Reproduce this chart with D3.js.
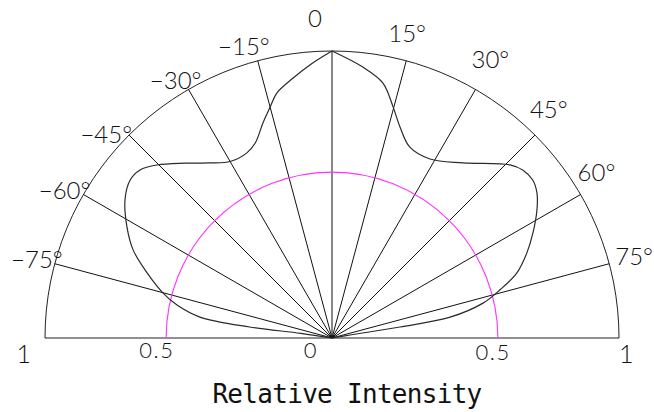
<!DOCTYPE html>
<html>
<head>
<meta charset="utf-8">
<script src="https://cdn.jsdelivr.net/npm/d3@7"></script>
<style>
  body { margin: 0; background: #fff; }
  text { font-family: "Lato", "Liberation Sans", sans-serif; font-weight: 300; fill: #111; }
</style>
</head>
<body>
<div id="main"></div>
<script>
// ray directions (degrees from vertical) and their labels
const rayAngles = [-75, -60, -45, -30, -15, 0, 15, 30, 45, 60, 75];
const rayLabels = ["\u221275°", "\u221260°", "\u221245°", "\u221230°", "\u221215°", "0", "15°", "30°", "45°", "60°", "75°"];

// radial scale ticks along the base line
const radialTicks = [-1, -0.5, 0, 0.5, 1];
const radialTickLabels = ["1", "0.5", "0", "0.5", "1"];

// magenta reference level
const referenceLevel = 0.578;

// measured curve, left half (apex -> origin)
const leftAngles = [0, -4.4, -8.5, -12.7, -15, -17.8, -21.5, -24.7, -30, -35, -40, -45.3, -48.8, -52, -56.3, -61.6, -66.1, -70.6, -75.1, -78, -81, -82.4, -81.5, -90];
const leftIntensity = [1, 0.957, 0.916, 0.875, 0.833, 0.787, 0.73, 0.71, 0.71, 0.745, 0.795, 0.857, 0.889, 0.893, 0.867, 0.812, 0.758, 0.683, 0.609, 0.552, 0.466, 0.29, 0.11, 0];

// measured curve, right half (apex -> origin)
const rightAngles = [0, 6.5, 11.3, 14.8, 17.9, 22.2, 28.7, 36.8, 45.8, 48.7, 51.8, 54.7, 58, 62.4, 66.4, 70.6, 74, 77, 80, 80.8, 80.5, 90];
const rightIntensity = [1, 0.95, 0.906, 0.833, 0.772, 0.718, 0.711, 0.762, 0.865, 0.886, 0.89, 0.875, 0.842, 0.79, 0.741, 0.683, 0.609, 0.54, 0.418, 0.24, 0.064, 0];

const width = 654;
const height = 412;
const cx = 332;
const cy = 338;
const R = 287;

const rad = (d) => (d * Math.PI) / 180;
const r = d3.scaleLinear().domain([0, 1]).range([0, R]);

// small hand nudges for the angle labels, relative to the ray end
const labelNudge = {
  "-75": [8, 4], "-60": [7, 4], "-45": [3, 8], "-30": [13, 0], "-15": [12, -6],
  "0": [-17, -24],
  "15": [-18, -19], "30": [-4, -21], "45": [-5, -17], "60": [-3, -14], "75": [6, 1],
};

const svg = d3.select("#main").append("svg").attr("width", width).attr("height", height);
svg.append("rect").attr("width", width).attr("height", height).attr("fill", "#fff");

const g = svg.append("g").attr("transform", `translate(${cx},${cy})`);

// outer semicircle
const outer = d3.path();
outer.arc(0, 0, r(1), -Math.PI, 0);
g.append("path").attr("d", outer.toString()).attr("fill", "none").attr("stroke", "#222").attr("stroke-width", 1);

// base line
g.append("line")
  .attr("x1", -r(1)).attr("x2", r(1))
  .attr("y1", 0).attr("y2", 0)
  .attr("stroke", "#222").attr("stroke-width", 1.2);

// rays
g.selectAll(".ray")
  .data(rayAngles)
  .enter()
  .append("line")
  .attr("class", "ray")
  .attr("x1", 0).attr("y1", 0)
  .attr("x2", (a) => r(1) * Math.sin(rad(a)))
  .attr("y2", (a) => -r(1) * Math.cos(rad(a)))
  .attr("stroke", "#111").attr("stroke-width", 1);

// magenta reference semicircle
const ref = d3.path();
ref.arc(0, 0, r(referenceLevel), -Math.PI, 0);
g.append("path").attr("d", ref.toString()).attr("fill", "none").attr("stroke", "#ff33ff").attr("stroke-width", 1.1);

// measured curve
const radial = d3.lineRadial()
  .angle((d) => rad(d[0]))
  .radius((d) => r(d[1]))
  .curve(d3.curveCatmullRom.alpha(0.5));

const leftPts = leftAngles.map((a, i) => [a, leftIntensity[i]]);
const rightPts = rightAngles.map((a, i) => [a, rightIntensity[i]]);

[leftPts, rightPts].forEach((pts) => {
  g.append("path")
    .attr("d", radial(pts))
    .attr("fill", "none")
    .attr("stroke", "#2a2a2a")
    .attr("stroke-width", 1.2);
});

// angle labels
g.selectAll(".angle-label")
  .data(rayAngles)
  .enter()
  .append("text")
  .attr("class", "angle-label")
  .attr("x", (a) => r(1) * Math.sin(rad(a)) + labelNudge[a][0])
  .attr("y", (a) => -r(1) * Math.cos(rad(a)) + labelNudge[a][1])
  .attr("text-anchor", (a) => (a < 0 ? "end" : a === 0 ? "middle" : "start"))
  .style("font-size", "24px")
  .text((a, i) => rayLabels[i]);

// radial tick labels
g.selectAll(".tick-label")
  .data(radialTicks)
  .enter()
  .append("text")
  .attr("class", "tick-label")
  .attr("x", (v) => (v <= 0 ? -r(-v) - 14 : r(v)))
  .attr("y", (v) => (Math.abs(v) === 1 ? 25 : v > 0 ? 22 : 20))
  .attr("text-anchor", (v) => (v <= 0 ? "end" : "start"))
  .style("font-size", (v) => (Math.abs(v) === 1 ? "25px" : "22px"))
  .style("letter-spacing", (v) => (Math.abs(v) === 1 ? "0px" : "1.5px"))
  .text((v, i) => radialTickLabels[i]);

// axis title
svg.append("text")
  .attr("x", 347)
  .attr("y", 403)
  .attr("text-anchor", "middle")
  .style("font-family", "'DejaVu Sans Mono', monospace")
  .style("font-weight", "400")
  .style("font-size", "26px")
  .style("letter-spacing", "-0.7px")
  .text("Relative Intensity");
</script>
</body>
</html>
